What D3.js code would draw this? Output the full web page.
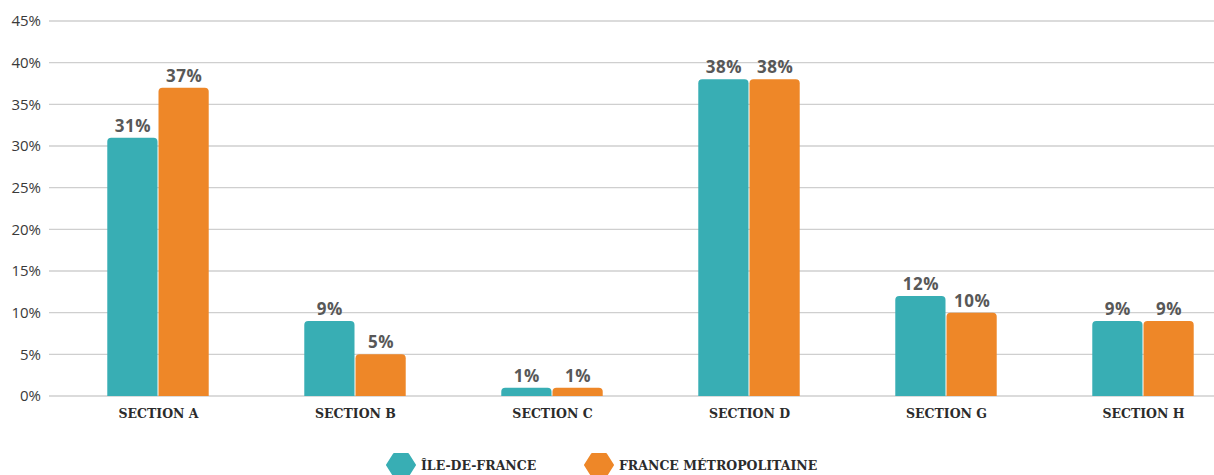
<!DOCTYPE html>
<html>
<head>
  <meta charset="utf-8">
  <script src="https://cdn.jsdelivr.net/npm/d3@7"></script>
  <style>
    body { margin: 0; background: #fff; }
  </style>
</head>
<body>
<script>
  var width = 1214,
      height = 475;

  var categories = ["SECTION A", "SECTION B", "SECTION C", "SECTION D", "SECTION G", "SECTION H"];
  var series = ["ÎLE-DE-FRANCE", "FRANCE MÉTROPOLITAINE"];
  var idf = [31, 9, 1, 38, 12, 9];
  var france = [37, 5, 1, 38, 10, 9];
  var yTicks = [0, 5, 10, 15, 20, 25, 30, 35, 40, 45];
  var colors = ["#38aeb4", "#ee8728"];

  var data = categories.map(function(c, i) {
    return { cat: c, values: [idf[i], france[i]] };
  });

  var svg = d3.select("body").append("svg")
      .attr("width", width)
      .attr("height", height);

  var x = d3.scaleBand()
      .domain(categories)
      .range([60, 1242])
      .paddingInner(0.48)
      .paddingOuter(0.24);

  var xs = d3.scaleBand()
      .domain([0, 1])
      .range([0, x.bandwidth()])
      .padding(0);

  var y = d3.scaleLinear()
      .domain([0, 45])
      .range([396, 21]);

  // grid
  svg.append("g")
    .selectAll("line")
    .data(yTicks)
    .enter().append("line")
      .attr("x1", 49)
      .attr("x2", width)
      .attr("y1", function(d) { return y(d); })
      .attr("y2", function(d) { return y(d); })
      .attr("stroke", "#cfcfcf")
      .attr("stroke-width", 1.3);

  // y axis labels
  var yAxis = d3.axisLeft(y).tickValues(yTicks).tickSize(0).tickPadding(0)
      .tickFormat(function(d) { return d + "%"; });
  var ga = svg.append("g").attr("transform", "translate(41,0)").call(yAxis);
  ga.select(".domain").remove();
  ga.selectAll("text")
      .attr("font-size", 15)
      .attr("fill", "#3a3a3a")
      .attr("font-family", "'Open Sans', sans-serif");

  // bars with rounded top corners
  function barPath(x0, w, yTop, yBase, r) {
    r = Math.min(r, yBase - yTop);
    return "M" + x0 + "," + yBase +
      "V" + (yTop + r) +
      "Q" + x0 + "," + yTop + " " + (x0 + r) + "," + yTop +
      "H" + (x0 + w - r) +
      "Q" + (x0 + w) + "," + yTop + " " + (x0 + w) + "," + (yTop + r) +
      "V" + yBase + "Z";
  }

  var groups = svg.selectAll(".grp")
      .data(data)
      .enter().append("g")
      .attr("transform", function(d) { return "translate(" + x(d.cat) + ",0)"; });

  groups.selectAll("path")
      .data(function(d) { return d.values; })
      .enter().append("path")
      .attr("d", function(v, j) {
        return barPath(xs(j), xs.bandwidth() - 1, y(v), y(0), 4);
      })
      .attr("fill", function(v, j) { return colors[j]; });

  groups.selectAll("text.val")
      .data(function(d) { return d.values; })
      .enter().append("text")
      .attr("class", "val")
      .attr("x", function(v, j) { return xs(j) + xs.bandwidth() / 2; })
      .attr("y", function(v) { return y(v) - 6; })
      .attr("text-anchor", "middle")
      .attr("font-family", "'Open Sans', sans-serif")
      .attr("font-weight", "bold")
      .attr("font-size", 17)
      .attr("letter-spacing", 0.5)
      .attr("fill", "#585858")
      .text(function(v) { return v + "%"; });

  // x labels
  svg.append("g")
    .selectAll("text")
    .data(categories)
    .enter().append("text")
      .attr("x", function(d) { return x(d) + x.bandwidth() / 2; })
      .attr("y", 418)
      .attr("text-anchor", "middle")
      .attr("font-family", "'DejaVu Serif', serif")
      .attr("font-weight", "bold")
      .attr("font-size", 12.5)
      .attr("fill", "#2b2b2b")
      .text(function(d) { return d; });

  // legend
  function hexPath(cx, cy, w, h) {
    return "M" + (cx - w / 2) + "," + cy +
      "L" + (cx - w / 4) + "," + (cy - h / 2) +
      "L" + (cx + w / 4) + "," + (cy - h / 2) +
      "L" + (cx + w / 2) + "," + cy +
      "L" + (cx + w / 4) + "," + (cy + h / 2) +
      "L" + (cx - w / 4) + "," + (cy + h / 2) + "Z";
  }
  var legendX = [401, 599];
  var leg = svg.selectAll(".leg")
      .data(series)
      .enter().append("g");
  leg.append("path")
      .attr("d", function(d, i) { return hexPath(legendX[i], 465, 28, 22); })
      .attr("fill", function(d, i) { return colors[i]; })
      .attr("stroke", function(d, i) { return colors[i]; })
      .attr("stroke-width", 2)
      .attr("stroke-linejoin", "round");
  leg.append("text")
      .attr("x", function(d, i) { return legendX[i] + 20; })
      .attr("y", 470)
      .attr("font-family", "'DejaVu Serif', serif")
      .attr("font-weight", "bold")
      .attr("font-size", 12.5)
      .attr("fill", "#2b2b2b")
      .text(function(d) { return d; });
</script>
</body>
</html>
